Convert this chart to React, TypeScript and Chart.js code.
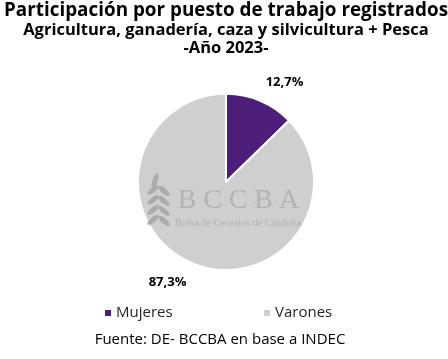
import { useEffect, useRef } from "react";
import { Chart, registerables } from "chart.js";

Chart.register(...registerables);

const categories = ["Mujeres", "Varones"];
const shares = [12.7, 87.3];
const sliceColors = ["#4e1f7a", "#cfcfcf"];
const titleText = "Participación por puesto de trabajo registrados";
const subtitleLines = ["Agricultura, ganadería, caza y silvicultura + Pesca", "-Año 2023-"];
const sourceText = "Fuente: DE- BCCBA en base a INDEC";
const watermarkLetters = ["B", "C", "C", "B", "A"];
const watermarkCaption = "Bolsa de Cereales de Córdoba";

const FONT = "'Open Sans', sans-serif";
const SERIF = "'Liberation Serif', serif";

const fmt = (v: number) => v.toFixed(1).replace(".", ",") + "%";

const watermarkPlugin = {
  id: "watermark",
  afterDatasetsDraw(chart: any) {
    const meta = chart.getDatasetMeta(0);
    if (!meta.data.length) return;
    const { x, y } = meta.data[0].getProps(["x", "y"], true);
    const ctx = chart.ctx;
    ctx.save();
    ctx.fillStyle = "#b3b3b3";
    ctx.textAlign = "center";
    ctx.textBaseline = "alphabetic";
    ctx.font = `28px ${SERIF}`;
    watermarkLetters.forEach((l, i) => {
      ctx.fillText(l, x - 39 + i * 25.5, y + 26);
    });
    ctx.font = `10.5px ${SERIF}`;
    ctx.textBaseline = "middle";
    ctx.fillText(watermarkCaption, x + 12, y + 41);
    // wheat ear
    ctx.fillStyle = "#ababab";
    const sx = x - 66;
    const leaf = (cx: number, cy: number, rot: number, a: number, b: number) => {
      ctx.beginPath();
      ctx.ellipse(cx, cy, a, b, rot, 0, Math.PI * 2);
      ctx.fill();
    };
    leaf(sx - 5, y - 1, -Math.PI / 2 + 0.3, 8, 2.6);
    const rows = [8, 18, 28, 38];
    rows.forEach((dy) => {
      leaf(sx - 7, y + dy, -0.7, 7, 2.6);
      leaf(sx + 4, y + dy + 1, 0.7 + Math.PI, 7, 2.6);
    });
    ctx.restore();
  },
};

const labelPlugin = {
  id: "outsideLabels",
  afterDatasetsDraw(chart: any) {
    const meta = chart.getDatasetMeta(0);
    const ctx = chart.ctx;
    ctx.save();
    ctx.font = `bold 13px ${FONT}`;
    ctx.fillStyle = "#000000";
    ctx.textAlign = "center";
    ctx.textBaseline = "middle";
    meta.data.forEach((arc: any, i: number) => {
      const { x, y, startAngle, endAngle, outerRadius } = arc.getProps(
        ["x", "y", "startAngle", "endAngle", "outerRadius"],
        true
      );
      const mid = (startAngle + endAngle) / 2;
      const r = outerRadius + 14;
      const px = x + Math.cos(mid) * r;
      const py = y + Math.sin(mid) * r;
      const text = fmt(shares[i]);
      const w = ctx.measureText(text).width;
      ctx.fillText(text, px + Math.sign(Math.cos(mid)) * w / 2, py + Math.sign(Math.sin(mid)) * 6);
    });
    ctx.restore();
  },
};

const legendFooterPlugin = {
  id: "legendFooter",
  afterDraw(chart: any) {
    const ctx = chart.ctx;
    const ds = chart.data.datasets[0];
    const itemX = [105, 264];
    const legendY = 313;
    ctx.save();
    ctx.font = `15px ${FONT}`;
    ctx.textBaseline = "middle";
    ctx.textAlign = "left";
    (chart.data.labels as string[]).forEach((lab, i) => {
      ctx.fillStyle = ds.backgroundColor[i];
      ctx.fillRect(itemX[i], legendY - 3, 6, 6);
      ctx.fillStyle = "#262626";
      ctx.fillText(lab, itemX[i] + 11, legendY);
    });
    ctx.fillStyle = "#000000";
    ctx.textAlign = "center";
    ctx.fillText(sourceText, 220, 340);
    ctx.restore();
  },
};

export default function App() {
  const ref = useRef<HTMLCanvasElement | null>(null);
  useEffect(() => {
    if (!ref.current) return;
    const chart = new Chart(ref.current, {
      type: "pie",
      data: {
        labels: categories,
        datasets: [
          {
            data: shares,
            backgroundColor: sliceColors,
            borderColor: "#ffffff",
            borderWidth: 2,
          },
        ],
      },
      options: {
        responsive: false,
        animation: false,
        layout: { padding: { top: 0, bottom: 88, left: 4, right: 0 } },
        plugins: {
          legend: { display: false },
          tooltip: { enabled: false },
          title: {
            display: true,
            text: titleText,
            color: "#000000",
            font: { family: FONT, size: 19, weight: "bold", lineHeight: 1.1 },
            padding: { top: 0, bottom: 0 },
          },
          subtitle: {
            display: true,
            text: subtitleLines,
            color: "#000000",
            font: { family: FONT, size: 16.5, weight: "bold", lineHeight: 1.12 },
            padding: { top: 0, bottom: 35 },
          },
        },
      },
      plugins: [watermarkPlugin, labelPlugin, legendFooterPlugin],
    });
    return () => chart.destroy();
  }, []);
  return (
    <div style={{ position: "absolute", left: 0, top: 0, width: 448, height: 359, background: "#ffffff" }}>
      <canvas ref={ref} width={448} height={359} />
    </div>
  );
}
